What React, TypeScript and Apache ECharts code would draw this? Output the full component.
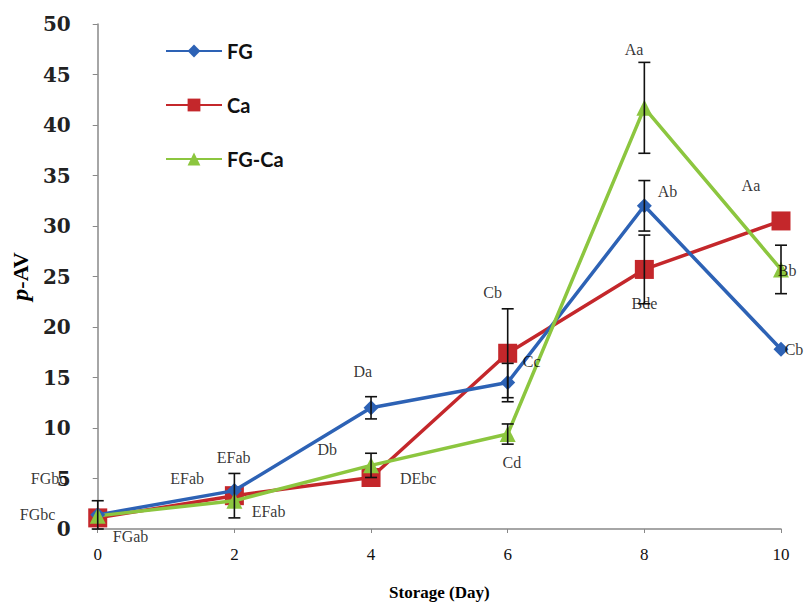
import React, { useEffect, useRef } from "react";
import * as echarts from "echarts";

const days = [0, 2, 4, 6, 8, 10];
const fgValues = [1.4, 3.8, 12.0, 14.5, 32.0, 17.8];
const caValues = [1.1, 3.3, 5.1, 17.4, 25.7, 30.5];
const fgcaValues = [1.3, 2.8, 6.3, 9.4, 41.7, 25.7];

const fgErrors = [1.4, 0, 1.1, 1.9, 2.5, 0];
const caErrors = [0, 2.2, 0, 4.4, 3.4, 0];
const fgcaErrors = [0, 0, 1.2, 1.0, 4.5, 2.4];

const yTicks = [0, 5, 10, 15, 20, 25, 30, 35, 40, 45, 50];
const xTicks = [0, 2, 4, 6, 8, 10];

// annotation letters: [day, value, text]
const annotations: [number, number, string][] = [
  [-0.72, 5.0, "FGbc"],
  [-0.88, 1.4, "FGbc"],
  [0.48, -0.7, "FGab"],
  [1.31, 5.0, "EFab"],
  [1.99, 7.1, "EFab"],
  [2.5, 1.7, "EFab"],
  [3.88, 15.6, "Da"],
  [3.36, 7.9, "Db"],
  [4.69, 5.0, "DEbc"],
  [5.78, 23.4, "Cb"],
  [6.35, 16.6, "Cc"],
  [6.06, 6.6, "Cd"],
  [7.85, 47.5, "Aa"],
  [8.34, 33.4, "Ab"],
  [8.0, 22.3, "Bde"],
  [9.56, 34.0, "Aa"],
  [10.09, 25.6, "Bb"],
  [10.19, 17.8, "Cb"],
];

const BLUE = "#2d62b5";
const RED = "#c4272b";
const GREEN = "#8cc63f";

function errorSeries(values: number[], errors: number[], name: string) {
  return {
    type: "custom",
    name: name + "-err",
    silent: true,
    z: 4,
    data: days.map((d, i) => [d, values[i], errors[i]]).filter((r) => r[2] > 0),
    renderItem: (_params: any, api: any) => {
      const x = api.value(0);
      const y = api.value(1);
      const e = api.value(2);
      const top = api.coord([x, y + e]);
      const bot = api.coord([x, y - e]);
      const w = 6;
      const style = { stroke: "#111", lineWidth: 1.6 };
      return {
        type: "group",
        children: [
          { type: "line", shape: { x1: top[0], y1: top[1], x2: bot[0], y2: bot[1] }, style },
          { type: "line", shape: { x1: top[0] - w, y1: top[1], x2: top[0] + w, y2: top[1] }, style },
          { type: "line", shape: { x1: bot[0] - w, y1: bot[1], x2: bot[0] + w, y2: bot[1] }, style },
        ],
      };
    },
  };
}

export default function App() {
  const ref = useRef<HTMLDivElement>(null);
  useEffect(() => {
    if (!ref.current) return;
    const chart = echarts.init(ref.current, null, { renderer: "svg" });
    chart.setOption({
      animation: false,
      backgroundColor: "#ffffff",
      grid: { left: 97, right: 27, top: 24, bottom: 74, containLabel: false },
      legend: {
        orient: "vertical",
        left: 160,
        top: 36,
        itemWidth: 56,
        itemHeight: 16,
        itemGap: 34,
        itemTextGap: 2,
        data: ["FG", "Ca", "FG-Ca"],
        textStyle: { fontFamily: "Lato", fontWeight: "bold", fontSize: 20, color: "#111" },
      },
      xAxis: {
        type: "value",
        min: 0,
        max: 10,
        interval: 2,
        name: "Storage (Day)",
        nameLocation: "middle",
        nameGap: 55,
        nameTextStyle: { fontFamily: "Liberation Serif", fontWeight: "bold", fontSize: 17, color: "#000" },
        axisLine: { show: true, lineStyle: { color: "#888", width: 1.5 } },
        axisTick: { show: true, length: 4, lineStyle: { color: "#888" } },
        splitLine: { show: false },
        axisLabel: {
          fontFamily: "Liberation Serif",
          fontSize: 17,
          color: "#111",
          margin: 17,
          formatter: (v: number) => (xTicks.includes(v) ? String(v) : ""),
        },
      },
      yAxis: {
        type: "value",
        min: 0,
        max: 50,
        interval: 5,
        name: "{i|p}{n|-AV}",
        nameLocation: "middle",
        nameGap: 52,
        nameTextStyle: {
          rich: {
            i: { fontFamily: "Liberation Serif", fontStyle: "italic", fontWeight: "bold", fontSize: 24, color: "#000" },
            n: { fontFamily: "Liberation Serif", fontWeight: "bold", fontSize: 22, color: "#000" },
          },
        },
        axisLine: { show: true, lineStyle: { color: "#888", width: 1.5 } },
        axisTick: { show: true, length: 5, lineStyle: { color: "#888" } },
        splitLine: { show: false },
        axisLabel: {
          fontFamily: "DejaVu Serif",
          fontWeight: "bold",
          fontSize: 20,
          color: "#222",
          margin: 27,
          formatter: (v: number) => (yTicks.includes(v) ? String(v) : ""),
        },
      },
      series: [
        {
          type: "line",
          name: "FG",
          data: days.map((d, i) => [d, fgValues[i]]),
          color: BLUE,
          symbol: "diamond",
          symbolSize: 15,
          lineStyle: { width: 3.5, color: BLUE },
          itemStyle: { color: BLUE },
          z: 3,
        },
        {
          type: "line",
          name: "Ca",
          data: days.map((d, i) => [d, caValues[i]]),
          color: RED,
          symbol: "rect",
          symbolSize: 19,
          lineStyle: { width: 3.5, color: RED },
          itemStyle: { color: RED },
          z: 2,
        },
        {
          type: "line",
          name: "FG-Ca",
          data: days.map((d, i) => [d, fgcaValues[i]]),
          color: GREEN,
          symbol: "triangle",
          symbolSize: 16,
          lineStyle: { width: 3.5, color: GREEN },
          itemStyle: { color: GREEN },
          z: 3,
        },
        errorSeries(fgValues, fgErrors, "FG"),
        errorSeries(caValues, caErrors, "Ca"),
        errorSeries(fgcaValues, fgcaErrors, "FG-Ca"),
        {
          type: "scatter",
          name: "letters",
          silent: true,
          clip: false,
          symbolSize: 0,
          z: 5,
          data: annotations.map((a) => [a[0], a[1], a[2]]),
          label: {
            show: true,
            position: "inside",
            formatter: (p: any) => p.data[2],
            fontFamily: "Liberation Serif",
            fontSize: 16,
            color: "#000",
          },
        },
      ],
    });
    return () => chart.dispose();
  }, []);
  return (
    <div
      ref={ref}
      style={{ position: "fixed", left: 0, top: 0, width: 808, height: 606, background: "#fff" }}
    />
  );
}
